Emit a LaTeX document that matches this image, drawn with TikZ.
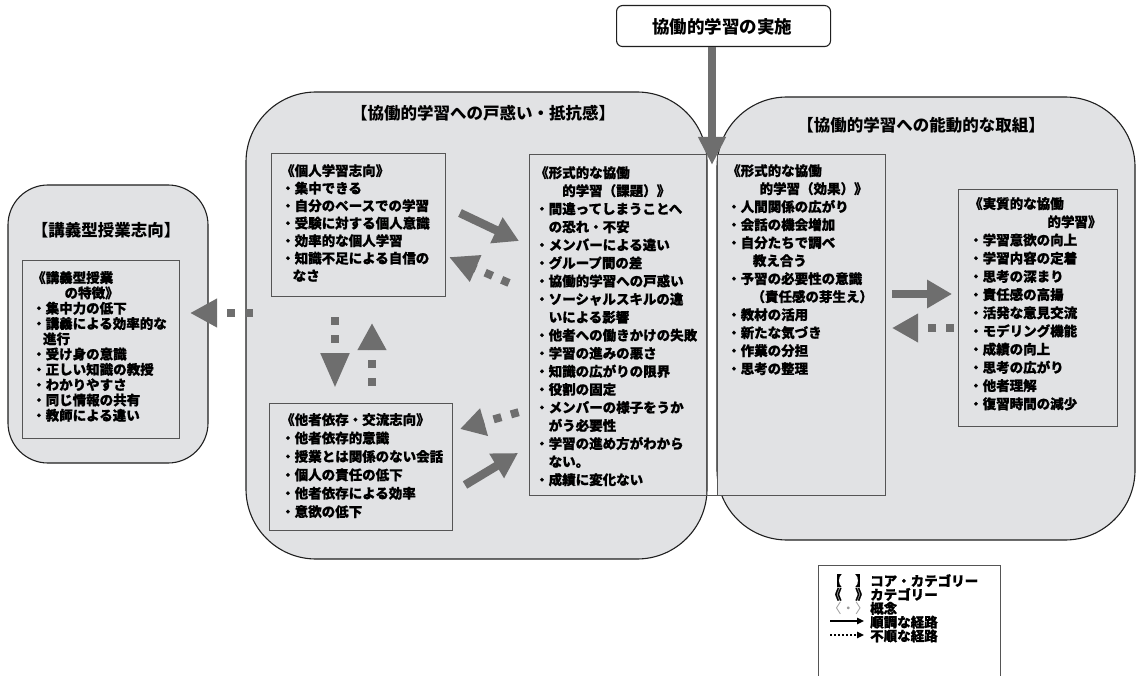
\documentclass[tikz,border=0pt]{standalone}
\usepackage{fontspec}
\setmainfont{Noto Sans CJK JP}[BoldFeatures={FakeBold=0.8}]
\newfontfamily\titlefont{Noto Sans CJK JP}
\usetikzlibrary{arrows.meta}
\definecolor{boxfill}{HTML}{E1E2E4}
\definecolor{arrowgray}{HTML}{6E6E6E}
\definecolor{rectline}{HTML}{555555}
\definecolor{legendgray}{HTML}{9A9A9A}
\lineskiplimit=-100pt
\begin{document}
\begin{tikzpicture}[x=1pt,y=-1pt,
  bigbox/.style={draw=black!88,line width=1.1pt,fill=boxfill,rounded corners=#1,inner sep=0pt,outer sep=0pt,anchor=north west},
  catbox/.style={draw=rectline,line width=0.9pt,fill=boxfill,inner sep=0pt,outer sep=0pt,anchor=north west},
  coretitle/.style={inner sep=0pt,font=\titlefont\bfseries\fontsize{16.5}{20}\selectfont},
  items/.style={anchor=north west,inner sep=0pt,align=left,font=\bfseries\fontsize{13.5}{#1}\selectfont},
  solidarrow/.style={draw=arrowgray,line width=8.5pt,-{Triangle[length=25pt,width=27pt]}},
  dotarrow/.style={draw=arrowgray,line width=8pt,dash pattern=on 8pt off 10pt,-{Triangle[length=#1,width=27pt]}},
  legendarrow/.style={draw=black,line width=1.4pt,-{Triangle[length=7pt,width=6.5pt]}}
]
\useasboundingbox (0,0) rectangle (1139,676);

% core category regions
\node[bigbox=70pt,minimum width=461pt,minimum height=467pt] (mid) at (246,92) {};
\node[bigbox=70pt,minimum width=418pt,minimum height=443pt] (right) at (717,97) {};
\node[bigbox=40pt,minimum width=200pt,minimum height=278pt] (left) at (8,185) {};

% top box
\node[draw=black!88,line width=1.1pt,fill=white,rounded corners=6pt,minimum width=214pt,minimum height=41pt,anchor=north west,inner sep=0pt] (impl) at (616,5) {};
\node[coretitle,font=\titlefont\bfseries\fontsize{17.5}{20}\selectfont] (impltext) at (722,27) {協働的学習の実施};

% titles
\node[coretitle] (midtitle) at (483,113) {【協働的学習への戸惑い・抵抗感】};
\node[coretitle] (righttitle) at (921,125) {【協働的学習への能動的な取組】};
\node[coretitle] (lefttitle) at (106,230) {【講義型授業志向】};

% category boxes
\node[catbox,minimum width=157pt,minimum height=178pt] (kogi) at (22,260) {};
\node[catbox,minimum width=174pt,minimum height=143pt] (kojin) at (271,153) {};
\node[catbox,minimum width=183pt,minimum height=127pt] (tasha) at (269,403) {};
\node[catbox,minimum width=177pt,minimum height=341pt] (kadai) at (529,154) {};
\node[catbox,minimum width=168pt,minimum height=341pt] (koka) at (717,154) {};
\node[catbox,minimum width=159pt,minimum height=237pt] (jisshitsu) at (958,189) {};
\draw[rectline,line width=0.9pt] (kadai.south east) -- (koka.south west);

% texts
\node[items=15.3] (kogitext) at (32,271) {《講義型授業\\
\hspace*{2.4em}の特徴》\\
・集中力の低下\\
・講義による効率的な\\
\hspace*{0.8em}進行\\
・受け身の意識\\
・正しい知識の教授\\
・わかりやすさ\\
・同じ情報の共有\\
・教師による違い};

\node[items=17.5] (kojintext) at (281,164) {《個人学習志向》\\
・集中できる\\
・自分のペースでの学習\\
・受験に対する個人意識\\
・効率的な個人学習\\
・知識不足による自信の\\
\hspace*{0.85em}なさ};

\node[items=18.4] (tashatext) at (281,413) {《他者依存・交流志向》\\
・他者依存的意識\\
・授業とは関係のない会話\\
・個人の責任の低下\\
・他者依存による効率\\
・意欲の低下};

\node[items=18.06] (kadaitext) at (535,166) {《形式的な協働\\
\hspace*{2em}的学習（課題）》\\
・間違ってしまうことへ\\
\hspace*{1em}の恐れ・不安\\
・メンバーによる違い\\
・グループ間の差\\
・協働的学習への戸惑い\\
・ソーシャルスキルの違\\
\hspace*{1em}いによる影響\\
・他者への働きかけの失敗\\
・学習の進みの悪さ\\
・知識の広がりの限界\\
・役割の固定\\
・メンバーの様子をうか\\
\hspace*{1em}がう必要性\\
・学習の進め方がわから\\
\hspace*{1em}ない。\\
・成績に変化ない};

\node[items=18] (kokatext) at (727,164) {《形式的な協働\\
\hspace*{2.4em}的学習（効果）》\\
・人間関係の広がり\\
・会話の機会増加\\
・自分たちで調べ\\
\hspace*{1.9em}教え合う\\
・予習の必要性の意識\\
\hspace*{1.8em}（責任感の芽生え）\\
・教材の活用\\
・新たな気づき\\
・作業の分担\\
・思考の整理};

\node[items=18.2] (jisshitsutext) at (969,197) {《実質的な協働\\
\hspace*{5.8em}的学習》\\
・学習意欲の向上\\
・学習内容の定着\\
・思考の深まり\\
・責任感の高揚\\
・活発な意見交流\\
・モデリング機能\\
・成績の向上\\
・思考の広がり\\
・他者理解\\
・復習時間の減少};

% legend
\draw[rectline,line width=0.8pt] (818,680) -- (818,565) -- (1000,565) -- (1000,680);
\node[items=13.75] (legendsym) at (828,574) {【\hspace*{1em}】\\
《\hspace*{1em}》\\
{\color{legendgray}\mdseries 〈・〉}};
\node[items=13.75] (legendtext) at (870,574) {コア・カテゴリー\\
カテゴリー\\
概念\\
順調な経路\\
不順な経路};
\coordinate (lg1s) at (830,621);
\coordinate (lg1e) at (864,621);
\coordinate (lg2s) at (830,635);
\coordinate (lg2e) at (864,635);
\draw[legendarrow] (lg1s) -- (lg1e);
\draw[legendarrow,dash pattern=on 1.6pt off 2.4pt] (lg2s) -- (lg2e);

% connector end points
\coordinate (a1s) at (253,313);
\coordinate (a1e) at (190,313);
\coordinate (a2s) at (460,213);
\coordinate (a2e) at (519,241);
\coordinate (a3s) at (509,283);
\coordinate (a3e) at (449,257);
\coordinate (a4s) at (335,317);
\coordinate (a4e) at (335,388);
\coordinate (a5s) at (372,386);
\coordinate (a5e) at (372,323);
\coordinate (a6s) at (518.6,412.2);
\coordinate (a6e) at (460,429);
\coordinate (a7s) at (465,485);
\coordinate (a7e) at (518,453);
\coordinate (a8s) at (892,294);
\coordinate (a8e) at (952,294);
\coordinate (a9s) at (954,328);
\coordinate (a9e) at (892,328);
\coordinate (topend) at (712,165);

% arrows
\draw[dotarrow=27pt] (a1s) -- (a1e);
\draw[solidarrow] (a2s) -- (a2e);
\draw[dotarrow=29pt] (a3s) -- (a3e);
\draw[dotarrow=35pt] (a4s) -- (a4e);
\draw[dotarrow=27pt] (a5s) -- (a5e);
\draw[dotarrow=25pt] (a6s) -- (a6e);
\draw[solidarrow] (a7s) -- (a7e);
\draw[solidarrow,line width=8pt] (a8s) -- (a8e);
\draw[dotarrow=26pt] (a9s) -- (a9e);
\draw[draw=arrowgray,line width=8.5pt,-{Triangle[length=28pt,width=26pt]}] (impl.south -| topend) -- (topend);
\end{tikzpicture}
\end{document}
